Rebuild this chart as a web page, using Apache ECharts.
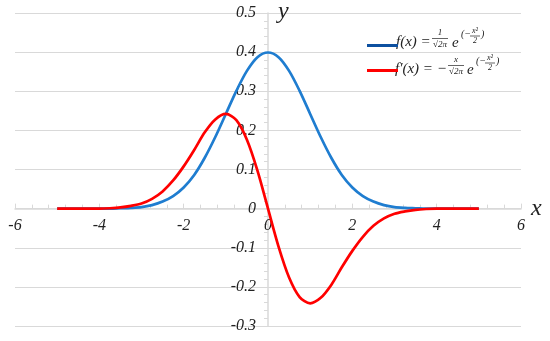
<!DOCTYPE html>
<html>
<head>
<meta charset="utf-8">
<script src="https://cdn.jsdelivr.net/npm/echarts@6/dist/echarts.min.js"></script>
<style>
  html, body { margin: 0; padding: 0; background: #fff; }
  #chart { width: 550px; height: 341px; }
</style>
</head>
<body>
<div id="chart"></div>
<script>
// x positions
const xs = [-5, -4.75, -4.5, -4.25, -4, -3.75, -3.5, -3.25, -3, -2.75, -2.5, -2.25, -2, -1.75, -1.5, -1.25, -1, -0.75, -0.5, -0.25,
  0, 0.25, 0.5, 0.75, 1, 1.25, 1.5, 1.75, 2, 2.25, 2.5, 2.75, 3, 3.25, 3.5, 3.75, 4, 4.25, 4.5, 4.75, 5]

// f(x), blue curve
const fVals = [0, 0, 0, 0, 0, 0, 0.001, 0.002, 0.004, 0.009, 0.018, 0.032, 0.054, 0.086, 0.130, 0.183, 0.242, 0.301, 0.352, 0.387,
  0.399, 0.387, 0.352, 0.301, 0.242, 0.183, 0.130, 0.086, 0.054, 0.032, 0.018, 0.009, 0.004, 0.002, 0.001, 0, 0, 0, 0, 0, 0]

// f'(x), red curve
const dVals = [0, 0, 0, 0, 0, 0.001, 0.003, 0.007, 0.013, 0.025, 0.044, 0.072, 0.108, 0.150, 0.195, 0.228, 0.242, 0.226, 0.176, 0.097,
  0, -0.097, -0.176, -0.226, -0.242, -0.228, -0.195, -0.150, -0.108, -0.072, -0.044, -0.025, -0.013, -0.007, -0.003, -0.001, 0, 0, 0, 0, 0]

const serif = 'Liberation Serif'
const axisGray = '#d9d9d9'

// grid box, the axes cross at (0, 0) inside it
const gridLeft = 15, gridTop = 13, gridW = 506, gridH = 313
const zeroX = gridW * 6 / 12          // px from left edge to x = 0
const zeroY = gridH * 0.3 / 0.8       // px from bottom edge to y = 0

const chart = echarts.init(document.getElementById('chart'))

const txt = (x, y, text, size, extra) => ({
  type: 'text', x, y,
  style: Object.assign({
    text, fontFamily: serif, fontStyle: 'italic', fontSize: size, fill: '#222',
    verticalAlign: 'middle', align: 'left'
  }, extra || {})
})
const bar = (x1, x2, y) => ({
  type: 'line', shape: { x1, y1: y, x2, y2: y }, style: { stroke: '#222', lineWidth: 0.7 }
})

chart.setOption({
  animation: false,
  grid: {
    left: gridLeft, top: gridTop, width: gridW, height: gridH,
    containLabel: false, outerBoundsMode: 'none'
  },
  legend: {
    orient: 'vertical',
    left: 362,
    top: 39,
    itemGap: 22,
    itemWidth: 31,
    itemHeight: 3,
    icon: 'rect',
    formatter: () => '',
    data: [
      { name: 'f', itemStyle: { color: '#0d50a0' } },
      { name: 'df', itemStyle: { color: '#ff0000' } }
    ]
  },
  xAxis: {
    type: 'value',
    min: -6, max: 6, interval: 2,
    position: 'bottom',
    offset: -zeroY,
    name: 'x',
    nameGap: 9,
    nameTextStyle: { fontFamily: serif, fontStyle: 'italic', fontSize: 24, color: '#222', verticalAlign: 'middle', padding: [0, 0, 4, 0] },
    axisLine: { onZero: false, lineStyle: { color: axisGray, width: 1.5 } },
    axisTick: { show: true, inside: true, length: 5, lineStyle: { color: axisGray } },
    minorTick: { show: true, splitNumber: 5, length: 4, lineStyle: { color: axisGray } },
    axisLabel: { margin: 9, fontFamily: serif, fontStyle: 'italic', fontSize: 16, color: '#222', showMinLabel: true, showMaxLabel: true },
    splitLine: { show: false }
  },
  yAxis: {
    type: 'value',
    min: -0.3, max: 0.5, interval: 0.1,
    position: 'left',
    offset: -zeroX,
    name: 'y',
    nameGap: 1,
    nameTextStyle: { fontFamily: serif, fontStyle: 'italic', fontSize: 24, color: '#222', align: 'left', verticalAlign: 'middle', padding: [0, 0, 0, 10] },
    axisLine: { onZero: false, lineStyle: { color: axisGray, width: 1.5 } },
    axisTick: { show: true, length: 5, lineStyle: { color: axisGray } },
    minorTick: { show: true, splitNumber: 5, length: 4, lineStyle: { color: axisGray } },
    axisLabel: {
      margin: 12, fontFamily: serif, fontStyle: 'italic', fontSize: 16, color: '#222',
      showMinLabel: true, showMaxLabel: true,
      formatter: v => String(Math.round(v * 10) / 10)
    },
    splitLine: { show: true, lineStyle: { color: axisGray, width: 1.2 } }
  },
  series: [
    {
      name: 'f', type: 'line', smooth: 0.3, showSymbol: false,
      data: xs.map((x, i) => [x, fVals[i]]),
      lineStyle: { color: '#1f7dd0', width: 2.7 },
      itemStyle: { color: '#1f7dd0' }
    },
    {
      name: 'df', type: 'line', smooth: 0.3, showSymbol: false,
      data: xs.map((x, i) => [x, dVals[i]]),
      lineStyle: { color: '#ff0000', width: 2.7 },
      itemStyle: { color: '#ff0000' }
    }
  ],
  graphic: [
    // f(x) = 1/sqrt(2pi) e^(-x^2/2)
    txt(396, 42, 'f(x) =', 15),
    txt(440, 33, '1', 9, { align: 'center' }),
    bar(432, 448, 38.5),
    txt(440, 45, '√2π', 9, { align: 'center' }),
    txt(452, 43, 'e', 15),
    txt(461, 34, '(−', 10),
    txt(475, 31, 'x²', 8, { align: 'center' }),
    bar(470, 480, 36),
    txt(475, 41, '2', 8, { align: 'center' }),
    txt(481, 34, ')', 10),
    // f'(x) = -x/sqrt(2pi) e^(-x^2/2)
    txt(395, 69, 'f′(x) = −', 15),
    txt(456, 60, 'x', 9, { align: 'center' }),
    bar(448, 464, 65.5),
    txt(456, 72, '√2π', 9, { align: 'center' }),
    txt(467, 70, 'e', 15),
    txt(476, 61, '(−', 10),
    txt(490, 58, 'x²', 8, { align: 'center' }),
    bar(485, 495, 63),
    txt(490, 68, '2', 8, { align: 'center' }),
    txt(496, 61, ')', 10)
  ]
})
</script>
</body>
</html>
